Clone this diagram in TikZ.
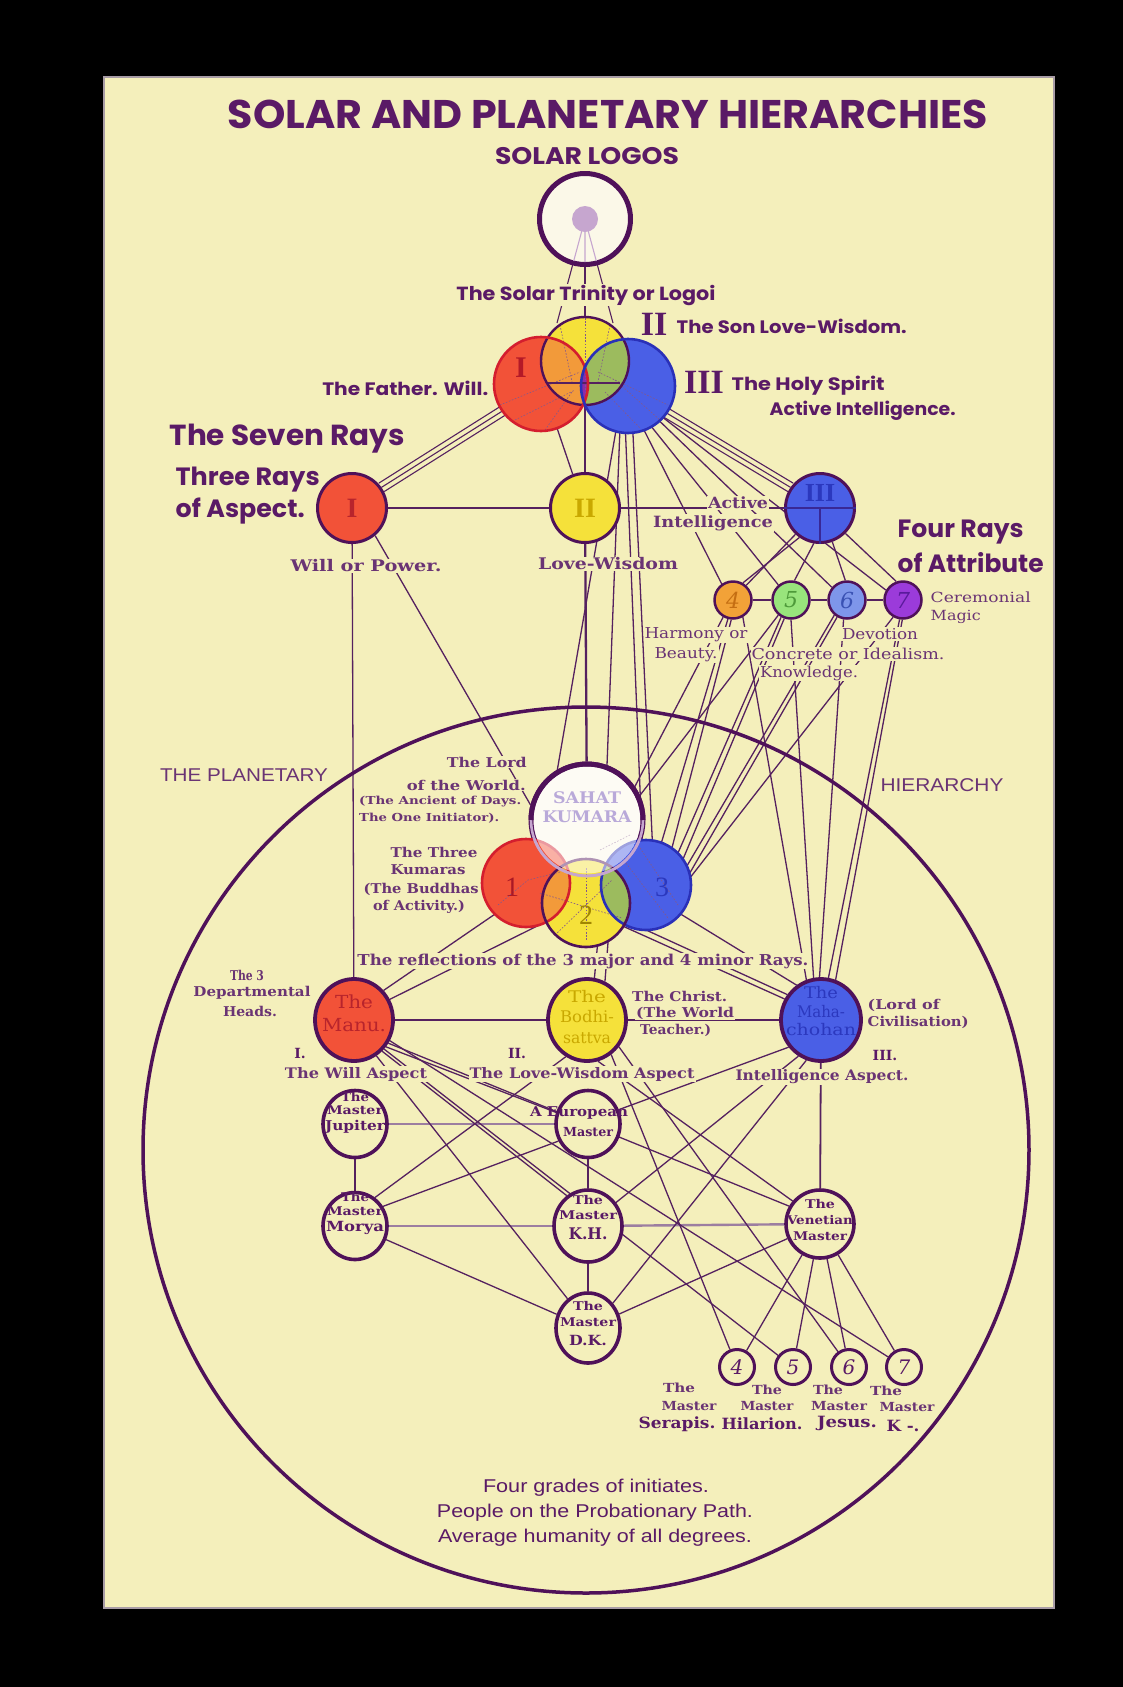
\documentclass[tikz,border=0pt]{standalone}
\usepackage{fontspec}
\usepackage{graphicx}
\usetikzlibrary{shapes.geometric}
\newfontfamily\fut{Poppins}
\newfontfamily\ser{DejaVu Serif}
\newfontfamily\rom{Liberation Serif}
\newfontfamily\ari{Liberation Sans}
\newcommand\fw[2]{\resizebox{#1pt}{\height}{#2}}
\newcommand\hdf[1]{\fut\bfseries\fontsize{#1}{#1}\selectfont}
\newcommand\serf[1]{\ser\fontsize{#1}{#1}\selectfont}
\newcommand\serb[1]{\ser\bfseries\fontsize{#1}{#1}\selectfont}
\newcommand\romb[1]{\rom\bfseries\fontsize{#1}{#1}\selectfont}
\newcommand\arif[1]{\ari\fontsize{#1}{#1}\selectfont}
\definecolor{bg}{HTML}{F4EFBB}
\definecolor{pur}{HTML}{4F1159}
\definecolor{txt}{HTML}{5A1A66}
\definecolor{ltxt}{HTML}{6A3474}
\definecolor{lin}{HTML}{55215F}
\definecolor{rd}{HTML}{F25238}
\definecolor{yl}{HTML}{F5E13A}
\definecolor{bl}{HTML}{4A5FE6}
\definecolor{og}{HTML}{F29A3A}
\definecolor{gr}{HTML}{9CBB5E}
\definecolor{vs}{HTML}{8C2BA8}
\definecolor{cr}{HTML}{FBF8E8}
\definecolor{lil}{HTML}{C6A6CF}
\definecolor{rdark}{HTML}{B8242C}
\definecolor{ydark}{HTML}{C9A800}
\definecolor{bdark}{HTML}{2B38BE}
\definecolor{crim}{HTML}{D41E2E}
\definecolor{bout}{HTML}{2A30B8}
\definecolor{rfour}{HTML}{F2A238}
\definecolor{nfour}{HTML}{C46E12}
\definecolor{rfive}{HTML}{98E47C}
\definecolor{nfive}{HTML}{4E9A3A}
\definecolor{rsix}{HTML}{7E96EA}
\definecolor{nsix}{HTML}{3A52B4}
\definecolor{rseven}{HTML}{9B3BDA}
\definecolor{nseven}{HTML}{5A1A9C}
\definecolor{frame}{HTML}{A89CA6}
\definecolor{mauve}{HTML}{9C7EA0}
\definecolor{lav}{HTML}{B9A9D9}
\pgfdeclarelayer{back}
\pgfdeclarelayer{lines}
\pgfsetlayers{back,lines,main}
\begin{document}
\begin{tikzpicture}[x=1pt,y=-1pt,
  conn/.style={draw=lin,line width=1.3pt},
  thk/.style={draw=lin,line width=2.3pt},
  softl/.style={draw=mauve,line width=2.4pt},
  dotl/.style={draw=pur!70,line width=0.6pt,dash pattern=on 1.6pt off 1.6pt},
  t/.style={inner sep=0.5pt,text=txt},
  tl/.style={inner sep=0.5pt,text=ltxt},
  tb/.style={inner sep=1pt,text=ltxt,fill=bg},
  bigray/.style={circle,draw=pur,line width=3pt,minimum size=69pt,inner sep=0pt},
  sray/.style={circle,draw=pur,line width=2.5pt,minimum size=37pt,inner sep=0pt,font=\ser\itshape\fontsize{22}{22}\selectfont},
  mring/.style={ellipse,draw=pur,line width=3.6pt,fill=bg,inner sep=0pt},
  lead/.style={ellipse,draw=pur,line width=3.8pt,inner sep=0pt,minimum width=78pt,minimum height=82pt},
  nring/.style={circle,draw=pur,line width=3pt,fill=bg,inner sep=0pt,minimum size=35pt,font=\ser\itshape\fontsize{20}{20}\selectfont,text=txt},
  kfill/.style={circle,inner sep=0pt}
]
\useasboundingbox (0,0) rectangle (1123,1687);
\begin{pgfonlayer}{back}
  \fill[black] (0,0) rectangle (1123,1687);
  \fill[bg] (104,77) rectangle (1054,1608);
  \draw[frame,line width=2.5pt] (104,77) rectangle (1054,1608);
\end{pgfonlayer}

% ---------- big planetary circle
\node[circle,draw=pur,line width=3.5pt,minimum size=886pt,inner sep=0pt] (planet) at (586,1150) {};

% ---------- Solar Logos
\node[circle,draw=pur,line width=5pt,fill=cr,minimum size=91pt,inner sep=0pt] (logos) at (585,219) {};
\coordinate (ty1) at (557,323);
\coordinate (ty2) at (585,317);
\coordinate (ty3) at (613,323);
\draw[lil,line width=1.1pt] (585,219) -- (573.7,261) (585,219) -- (585,262) (585,219) -- (596.3,261);
\node[circle,fill=lil,minimum size=26pt,inner sep=0pt] (dot) at (585,219) {};

% ---------- Solar Trinity
\node[kfill,fill=yl,minimum size=88pt] (tY) at (585,361) {};
\node[kfill,fill=rd,minimum size=94pt] (tR) at (541,384) {};
\node[kfill,fill=bl,minimum size=94pt] (tB) at (628,386) {};
\begin{scope}
  \clip (541,384) circle[radius=47];
  \fill[og] (585,361) circle[radius=44];
\end{scope}
\begin{scope}
  \clip (628,386) circle[radius=47];
  \fill[gr] (585,361) circle[radius=44];
\end{scope}
\begin{scope}
  \clip (541,384) circle[radius=47];
  \fill[vs] (628,386) circle[radius=47];
\end{scope}
\draw[dotl] (585,318) -- (585,402);
\draw[dotl] (560,325) -- (572,382);
\draw[dotl] (610,325) -- (598,382);
\draw[dotl] (500,405) -- (580,372);
\draw[dotl] (515,420) -- (575,390);
\draw[dotl] (545,430) -- (572,392);
\draw[dotl] (598,372) -- (668,405);
\draw[dotl] (605,392) -- (640,428);
\draw[dotl] (615,380) -- (660,420);
\draw[lin,line width=1.2pt] (547,383) -- (620,383);
\draw[pur,line width=2.4pt] (585,361) circle[radius=44];
\draw[crim,line width=2.6pt] (541,384) circle[radius=47];
\draw[bout,line width=2.6pt] (628,386) circle[radius=47];
\node[t,text=crim!85!black,font=\romb{30}] (tI) at (521,368) {I};

% ---------- Rays of aspect
\node[bigray,fill=rd,text=rdark,font=\romb{28}] (r1) at (352,508) {I};
\node[bigray,fill=yl,text=ydark,font=\romb{28}] (r2) at (585,508) {II};
\node[bigray,fill=bl] (r3) at (820,508) {};
\draw[bdark!60!pur,line width=1.4pt] (r3.west) -- (r3.east);
\draw[bdark!60!pur,line width=1.4pt] (r3.center) -- (r3.south);
\node[t,text=bdark,font=\romb{26}] (r3t) at (820,493) {III};

% ---------- Rays of attribute
\node[sray,fill=rfour,text=nfour] (r4) at (733,600) {4};
\node[sray,fill=rfive,text=nfive] (r5) at (791,600) {5};
\node[sray,fill=rsix,text=nsix] (r6) at (847,600) {6};
\node[sray,fill=rseven,text=nseven] (r7) at (903,600) {7};

% ---------- Sahat Kumara and the three Kumaras
\node[circle,draw=pur,line width=5pt,fill=cr,minimum size=112pt,inner sep=0pt] (sk) at (587,820) {};
\node[kfill,fill=rd,minimum size=88pt] (k1) at (526,883) {};
\node[kfill,fill=bl,minimum size=90pt] (k3) at (646,885) {};
\node[kfill,fill=yl,minimum size=88pt] (k2) at (586,903) {};
\begin{scope}
  \clip (526,883) circle[radius=44];
  \fill[og] (586,903) circle[radius=44];
\end{scope}
\begin{scope}
  \clip (646,885) circle[radius=45];
  \fill[gr] (586,903) circle[radius=44];
\end{scope}
\draw[dotl] (498,905) -- (528,880) -- (560,872);
\draw[dotl] (540,893) -- (622,918);
\draw[dotl] (586,868) -- (586,940);
\draw[dotl] (555,935) -- (612,880);
\draw[dotl] (622,858) -- (668,918);
\draw[dotl] (640,848) -- (678,905);
\draw[dotl] (600,850) -- (630,835);
\draw[crim,line width=2.6pt] (526,883) circle[radius=44];
\draw[bout,line width=2.6pt] (646,885) circle[radius=45];
\draw[pur,line width=2.6pt] (586,903) circle[radius=44];
\begin{scope}
  \clip (587,820) circle[radius=53.5];
  \fill[white,opacity=0.55] (587,820) circle[radius=53.5];
\end{scope}
\draw[lil,line width=2.6pt] (643,820) arc[start angle=0,end angle=180,radius=56];
\draw[pur,line width=5pt] (531,820) arc[start angle=180,end angle=360,radius=56];
\draw[lil,line width=2.6pt] (639.6,839) arc[start angle=20,end angle=160,radius=56];
\node[t,text=lav,font=\serb{16}] (skt1) at (587,798) {\fw{68}{SAHAT}};
\node[t,text=lav,font=\serb{16}] (skt2) at (587,817) {\fw{89}{KUMARA}};
\node[t,text=crim!80!black,font=\rom\fontsize{28}{28}\selectfont] (k1t) at (512,887) {1};
\node[t,text=ydark!80!black,font=\rom\fontsize{28}{28}\selectfont] (k2t) at (586,915) {2};
\node[t,text=bdark,font=\rom\fontsize{28}{28}\selectfont] (k3t) at (662,887) {3};

% ---------- Three departmental heads
\node[lead,fill=rd] (manu) at (354,1020) {};
\node[lead,fill=yl] (bodhi) at (587,1020) {};
\node[lead,fill=bl,minimum width=80pt] (maha) at (821,1020) {};
\node[t,text=rdark,font=\serf{18}] (manut1) at (354,1002) {\fw{38}{The}};
\node[t,text=rdark,font=\serf{18}] (manut2) at (354,1025) {\fw{64}{Manu.}};
\node[t,text=ydark,font=\serf{16}] (bodt1) at (587,997) {\fw{38}{The}};
\node[t,text=ydark,font=\serf{16}] (bodt2) at (587,1017) {\fw{54}{Bodhi-}};
\node[t,text=ydark,font=\serf{16}] (bodt3) at (587,1038) {\fw{48}{sattva}};
\node[t,text=bdark,font=\serf{16}] (mahat1) at (821,993) {\fw{34}{The}};
\node[t,text=bdark,font=\serf{16}] (mahat2) at (821,1012) {\fw{48}{Maha-}};
\node[t,text=bdark,font=\serf{16}] (mahat3) at (821,1030) {\fw{70}{chohan}};

% ---------- Masters
\node[mring,minimum width=64pt,minimum height=67pt] (jup) at (355,1124) {};
\node[mring,minimum width=64pt,minimum height=67pt] (eur) at (588,1124) {};
\node[mring,minimum width=64pt,minimum height=67pt] (mor) at (355,1226) {};
\node[mring,minimum width=68pt,minimum height=72pt] (kh) at (588,1226) {};
\node[mring,minimum width=68pt,minimum height=68pt] (ven) at (820,1224) {};
\node[mring,minimum width=64pt,minimum height=70pt] (dk) at (588,1328) {};
\node[t,font=\serb{12}] (jupt1) at (355,1097) {\fw{28}{The}};
\node[t,font=\serb{12}] (jupt2) at (355,1110) {\fw{56}{Master}};
\node[t,font=\serb{13.5}] (jupt3) at (355,1127) {\fw{60}{Jupiter}};
\node[t,font=\serb{13.5}] (eurt1) at (579,1113) {\fw{98}{A European}};
\node[t,font=\serb{12.5}] (eurt2) at (588,1132) {\fw{50}{Master}};
\node[t,font=\serb{12}] (mort1) at (355,1197) {\fw{28}{The}};
\node[t,font=\serb{12}] (mort2) at (355,1211) {\fw{56}{Master}};
\node[t,font=\serb{14}] (mort3) at (355,1228) {\fw{58}{Morya}};
\node[t,font=\serb{12}] (kht1) at (588,1200) {\fw{30}{The}};
\node[t,font=\serb{12}] (kht2) at (588,1215) {\fw{58}{Master}};
\node[t,font=\serb{16}] (kht3) at (588,1234) {\fw{39}{K.H.}};
\node[t,font=\serb{12}] (vent1) at (820,1204) {\fw{30}{The}};
\node[t,font=\serb{12}] (vent2) at (820,1220) {\fw{66}{Venetian}};
\node[t,font=\serb{12}] (vent3) at (820,1236) {\fw{54}{Master}};
\node[t,font=\serb{12}] (dkt1) at (588,1306) {\fw{30}{The}};
\node[t,font=\serb{12}] (dkt2) at (588,1322) {\fw{56}{Master}};
\node[t,font=\serb{14}] (dkt3) at (588,1340) {\fw{38}{D.K.}};

% ---------- four grades
\node[nring] (m4) at (737,1367) {4};
\node[nring] (m5) at (793,1367) {5};
\node[nring] (m6) at (849,1367) {6};
\node[nring] (m7) at (904,1367) {7};

% ---------- headings
\node[t,font=\hdf{40}] (title) at (608,114) {\fw{760}{SOLAR AND PLANETARY HIERARCHIES}};
\node[t,font=\hdf{24}] (slogos) at (587,156) {\fw{184}{SOLAR LOGOS}};
\node[tb,text=txt,font=\hdf{19}] (strin) at (586,295) {\fw{259}{The Solar Trinity or Logoi}};
\node[t,font=\romb{34}] (nII) at (654,324) {II};
\node[t,font=\hdf{18},anchor=west] (son) at (676,326) {\fw{230}{The Son Love-Wisdom.}};
\node[t,font=\hdf{18},anchor=east] (father) at (489,388) {\fw{166}{The Father. Will.}};
\node[t,font=\romb{34}] (nIII) at (704,382) {III};
\node[t,font=\hdf{18},anchor=west] (holy) at (731,386) {\fw{153}{The Holy Spirit}};
\node[t,font=\hdf{18},anchor=west] (activ) at (769,411) {\fw{186}{Active Intelligence.}};
\node[t,font=\hdf{29},anchor=west] (seven) at (169,439) {\fw{235}{The Seven Rays}};
\node[t,font=\hdf{25},anchor=west] (three1) at (175,480) {\fw{144}{Three Rays}};
\node[t,font=\hdf{25},anchor=west] (three2) at (175,511) {\fw{129}{of Aspect.}};
\node[t,font=\hdf{25},anchor=west] (four1) at (897,532) {\fw{126}{Four Rays}};
\node[t,font=\hdf{25},anchor=west] (four2) at (897,563) {\fw{146}{of Attribute}};

% ---------- ray labels
\node[tb,font=\serb{16}] (lwill) at (366,566) {\fw{151}{Will or Power.}};
\node[tb,font=\serb{16}] (llove) at (608,564) {\fw{140}{Love-Wisdom}};
\node[tb,font=\serb{15.5}] (lact1) at (738,503) {\fw{60}{Active}};
\node[tb,font=\serb{15.5}] (lact2) at (713,523) {\fw{120}{Intelligence}};
\node[tl,font=\serf{14},anchor=west] (lcer1) at (930,597) {\fw{100}{Ceremonial}};
\node[tl,font=\serf{14},anchor=west] (lcer2) at (930,617) {\fw{50}{Magic}};
\node[tb,font=\serf{15}] (lhar1) at (696,635) {\fw{103}{Harmony or}};
\node[tb,font=\serf{15}] (lhar2) at (686,655) {\fw{63}{Beauty.}};
\node[tb,font=\serf{15}] (ldev1) at (880,634) {\fw{76}{Devotion}};
\node[tb,font=\serf{15}] (ldev2) at (848,654) {\fw{193}{Concrete or Idealism.}};
\node[tb,font=\serf{15}] (ldev3) at (809,673) {\fw{98}{Knowledge.}};

% ---------- planetary hierarchy labels
\node[tl,font=\arif{18.5}] (lplan) at (244,775) {\fw{168}{THE PLANETARY}};
\node[tl,font=\arif{18.5}] (lhier) at (942,785) {\fw{123}{HIERARCHY}};
\node[tb,font=\serb{13.5},anchor=east] (lord1) at (528,762) {\fw{80}{The Lord}};
\node[tb,font=\serb{13.5},anchor=east] (lord2) at (527,785) {\fw{119}{of the World.}};
\node[tb,font=\serb{11},anchor=west] (lord3) at (358,802) {\fw{162}{(The Ancient of Days.}};
\node[tb,font=\serb{11},anchor=west] (lord4) at (358,818) {\fw{140}{The One Initiator).}};
\node[tl,font=\serb{13.5}] (kum1) at (434,852) {\fw{87}{The Three}};
\node[tl,font=\serb{13.5}] (kum2) at (428,870) {\fw{75}{Kumaras}};
\node[tl,font=\serb{13.5},anchor=west] (kum3) at (363,889) {\fw{115}{(The Buddhas}};
\node[tl,font=\serb{13.5}] (kum4) at (419,907) {\fw{92}{of Activity.)}};
\node[tb,font=\serb{15}] (lrefl) at (583,961) {\fw{451}{The reflections of the 3 major and 4 minor Rays.}};
\node[tl,font=\serb{13.5}] (dep1) at (247,975) {\fw{34}{The 3}};
\node[tl,font=\serb{13.5}] (dep2) at (252,993) {\fw{117}{Departmental}};
\node[tl,font=\serb{13.5}] (dep3) at (250,1011) {\fw{54}{Heads.}};
\node[tb,font=\serb{13.5},anchor=west] (chr1) at (631,996) {\fw{95}{The Christ.}};
\node[tb,font=\serb{13.5},anchor=west] (chr2) at (635,1013) {\fw{98}{(The World}};
\node[tb,font=\serb{13.5},anchor=west] (chr3) at (639,1030) {\fw{71}{Teacher.)}};
\node[tl,font=\serb{13.5},anchor=west] (civ1) at (867,1005) {\fw{72}{(Lord of}};
\node[tl,font=\serb{13.5},anchor=west] (civ2) at (867,1022) {\fw{101}{Civilisation)}};
\node[t,font=\serb{14}] (asp1n) at (300,1053) {I.};
\node[t,font=\serb{14}] (asp2n) at (517,1053) {II.};
\node[t,font=\serb{14}] (asp3n) at (885,1055) {III.};
\node[tb,font=\serb{14.5}] (asp1) at (356,1074) {\fw{142}{The Will Aspect}};
\node[tb,font=\serb{14.5}] (asp2) at (582,1074) {\fw{225}{The Love-Wisdom Aspect}};
\node[tb,font=\serb{14.5}] (asp3) at (822,1077) {\fw{173}{Intelligence Aspect.}};

% ---------- four masters below
\node[tl,font=\serb{12.5}] (ser1) at (679,1388) {\fw{32}{The}};
\node[tl,font=\serb{12.5}] (ser2) at (689,1406) {\fw{55}{Master}};
\node[t,font=\serb{15.5}] (ser3) at (677,1424) {\fw{77}{Serapis.}};
\node[tl,font=\serb{12.5}] (hil1) at (767,1390) {\fw{30}{The}};
\node[tl,font=\serb{12.5}] (hil2) at (767,1406) {\fw{53}{Master}};
\node[t,font=\serb{15.5}] (hil3) at (762,1424) {\fw{81}{Hilarion.}};
\node[tl,font=\serb{12.5}] (jes1) at (828,1390) {\fw{30}{The}};
\node[tl,font=\serb{12.5}] (jes2) at (839,1406) {\fw{56}{Master}};
\node[t,font=\serb{15.5}] (jes3) at (847,1423) {\fw{60}{Jesus.}};
\node[tl,font=\serb{12.5}] (kk1) at (886,1391) {\fw{32}{The}};
\node[tl,font=\serb{12.5}] (kk2) at (907,1407) {\fw{55}{Master}};
\node[t,font=\serb{15.5}] (kk3) at (903,1426) {\fw{33}{K -.}};

% ---------- bottom text
\node[t,font=\arif{18.5}] (bot1) at (596,1488) {\fw{226}{Four grades of initiates.}};
\node[t,font=\arif{18.5}] (bot2) at (595,1513) {\fw{316}{People on the Probationary Path.}};
\node[t,font=\arif{18.5}] (bot3) at (595,1538) {\fw{314}{Average humanity of all degrees.}};

% ================= connectors
\begin{pgfonlayer}{lines}
  % logos to trinity
  \draw[conn,line width=1.1pt] (dot.center) -- (ty1);
  \draw[conn,line width=1.1pt] (dot.center) -- (ty2);
  \draw[conn,line width=1.1pt] (dot.center) -- (ty3);
  % trinity to rays of aspect
  \foreach \s in {-5,0,5}{
    \draw[conn,line width=1.1pt] ([shift={({0.532*\s},{0.847*\s})}]tR.215) -- ([shift={({0.532*\s},{0.847*\s})}]r1.35);
    \draw[conn,line width=1.1pt] ([shift={({-0.512*\s},{0.859*\s})}]tB.-35) -- ([shift={({-0.512*\s},{0.859*\s})}]r3.145);
  }
  \coordinate (tC) at (585,402);
  \draw[thk] (tC) -- (r2);
  \draw[conn] (tR.-70) -- (r2.110);
  \draw[conn] (tB.-105) -- (k1.65);
  \draw[conn] (tB.-100) -- (sk.70);
  \draw[conn] (tB.-93) -- (k3.95);
  \draw[conn] (tB.-84) -- (k3.82);
  \draw[conn] (tB.-70) -- (r4.125);
  \draw[conn] (tB.-60) -- (r5.130);
  \draw[conn] (tB.-48) -- (r6.140);
  \draw[conn] (tB.-42) -- (r7.150);
  % rays of aspect
  \draw[thk,line width=2pt] (r1) -- (r2);
  \draw[thk,line width=2pt] (r2) -- (r3);
  \draw[conn] (r3.-125) -- (r4.60);
  \draw[conn] (r3.-133) -- (r4.48);
  \draw[conn] (r3.-100) -- (r5.80);
  \draw[conn] (r3.-70) -- (r6.95);
  \draw[conn] (r3.-45) -- (r7.110);
  \draw[thk,line width=2.2pt] (r4) -- (r5);
  \draw[thk,line width=2.2pt] (r5) -- (r6);
  \draw[thk,line width=2.2pt] (r6) -- (r7);
  \draw[conn] (r1) -- (manu);
  \draw[conn] (r1.-50) -- (sk.165);
  \draw[thk] (r2) -- (sk);
  % rays of attribute into the hierarchy
  \draw[conn] (r4.-120) -- (sk.35);
  \draw[conn] (r4.-105) -- (k3.70);
  \draw[conn] (r4.-95) -- (k3.55);
  \draw[conn] (r4.-60) -- (maha.110);
  \draw[conn] (r5.-130) -- (sk.25);
  \draw[conn] (r5.-120) -- (k3.45);
  \draw[conn] (r5.-110) -- (k3.35);
  \draw[conn] (r5.-90) -- (maha.100);
  \draw[conn] (r6.-130) -- (k3.25);
  \draw[conn] (r6.-120) -- (k3.15);
  \draw[conn] (r6.-100) -- (maha.92);
  \draw[conn] (r7.-120) -- (k3.10);
  \draw[conn] (r7.-100) -- (maha.80);
  \draw[conn] (r7.-92) -- (maha.70);
  % kumaras to departmental heads
  \draw[conn] (k1.-135) -- (manu.45);
  \draw[conn] (k2.-155) -- (manu.30);
  \draw[conn] (k2.-75) -- (bodhi.80);
  \draw[conn] (k2.-60) -- (bodhi.65);
  \draw[conn] (k2.-32) -- (maha.150);
  \draw[conn] (k2.-24) -- (maha.143);
  \draw[conn] (k3.-40) -- (maha.125);
  % departmental heads
  \draw[thk,line width=2pt] (manu) -- (bodhi);
  \draw[thk,line width=1.8pt] (bodhi) -- (maha);
  \draw[thk,line width=1.8pt] (maha) -- (ven);
  % masters
  \draw[softl] (jup) -- (eur);
  \draw[conn,line width=1.8pt] (jup) -- (mor);
  \draw[conn,line width=1.8pt] (eur) -- (kh);
  \draw[conn,line width=1.8pt] (kh) -- (dk);
  \draw[softl] (mor) -- (kh);
  \draw[softl] (kh) -- (ven);
  \draw[conn] (mor) -- (dk);
  \draw[conn] (ven) -- (dk);
  \draw[conn] (mor.35) -- (eur.-150);
  \draw[conn] (mor.55) -- (bodhi.-120);
  \draw[conn] (manu.-40) -- (eur.160);
  \draw[conn] (manu.-48) -- (kh.125);
  \draw[conn] (manu.-58) -- (dk.125);
  \draw[conn] (manu.-34) -- (ven.150);
  \draw[conn] (manu.-30) -- (m7);
  \draw[conn] (manu.-44) -- (m5);
  \draw[conn] (bodhi.-55) -- (m4);
  \draw[conn] (bodhi.-75) -- (ven.140);
  \draw[conn] (bodhi.-40) -- (m6);
  \draw[conn] (maha.-140) -- (eur.25);
  \draw[conn] (maha.-122) -- (kh.40);
  \draw[conn] (maha.-110) -- (dk.45);
  \draw[conn] (ven) -- (m4);
  \draw[conn] (ven) -- (m5);
  \draw[conn] (ven) -- (m6);
  \draw[conn] (ven) -- (m7);
\end{pgfonlayer}
\end{tikzpicture}
\end{document}
